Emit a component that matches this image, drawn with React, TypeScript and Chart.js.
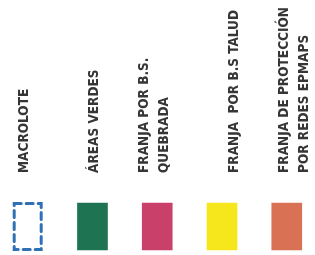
import React, { useEffect, useRef } from "react";
import { Chart, registerables } from "chart.js";
Chart.register(...registerables);

const categories: string[][] = [
  ["MACROLOTE"],
  ["ÁREAS VERDES"],
  ["FRANJA POR B.S.", "QUEBRADA"],
  ["FRANJA  POR B.S TALUD"],
  ["FRANJA DE PROTECCIÓN", "POR REDES EPMAPS"],
];
const values = [1, 1, 1, 1, 1];
const fillColors = ["rgba(0,0,0,0)", "#1e7352", "#c9406b", "#f6e71c", "#d97155"];
const dashed = [true, false, false, false, false];
const dashColor = "#3070b4";
const textColor = "#363636";
const fontFamily = "'Liberation Sans Narrow', 'DejaVu Sans Condensed', 'Liberation Sans', sans-serif";
const fontSize = 13.5;
const lineH = 20;

const dashPlugin = {
  id: "dashedBox",
  afterDatasetsDraw(chart: any) {
    const meta = chart.getDatasetMeta(0);
    const ctx = chart.ctx;
    meta.data.forEach((el: any, i: number) => {
      if (!dashed[i]) return;
      const { x, y, base, width } = el.getProps(["x", "y", "base", "width"], true);
      ctx.save();
      ctx.strokeStyle = dashColor;
      ctx.lineWidth = 3;
      ctx.lineCap = "round";
      ctx.setLineDash([7, 5]);
      ctx.strokeRect(x - width / 2 + 1.5, y + 0.5, width - 3, base - y - 1);
      ctx.restore();
    });
  },
};

export default function App() {
  const ref = useRef<HTMLCanvasElement>(null);
  useEffect(() => {
    if (!ref.current) return;
    const chart = new Chart(ref.current, {
      type: "bar",
      data: {
        labels: categories,
        datasets: [
          {
            data: values.map((v, i) => ({ x: i, y: v })),
            backgroundColor: fillColors,
            borderWidth: 0,
            barThickness: 30,
            clip: false as any,
            xAxisID: "xb",
          },
        ],
      },
      options: {
        animation: false,
        responsive: false,
        layout: { padding: { left: 24, right: 11, top: 0, bottom: 5 } },
        plugins: { legend: { display: false }, tooltip: { enabled: false } },
        scales: {
          x: {
            type: "category",
            position: "top",
            offset: false,
            grid: { display: false, drawTicks: false },
            border: { display: false },
            ticks: {
              minRotation: 90,
              maxRotation: 90,
              autoSkip: false,
              padding: 30,
              labelOffset: lineH,
              color: textColor,
              font: { family: fontFamily, size: fontSize, weight: "bold", lineHeight: lineH / fontSize },
            },
            afterFit: (s: any) => {
              s.height = 203;
              s.paddingLeft = 0;
              s.paddingRight = 0;
            },
          },
          xb: {
            type: "linear",
            display: false,
            min: -0.057,
            max: 4.266,
            offset: false,
          },
          y: { display: false, min: 0, max: 1 },
        },
      },
      plugins: [dashPlugin],
    });
    return () => chart.destroy();
  }, []);
  return (
    <div style={{ position: "absolute", left: 0, top: 0, width: 315, height: 255, background: "#fff" }}>
      <canvas ref={ref} width={315} height={255} style={{ display: "block" }} />
    </div>
  );
}
